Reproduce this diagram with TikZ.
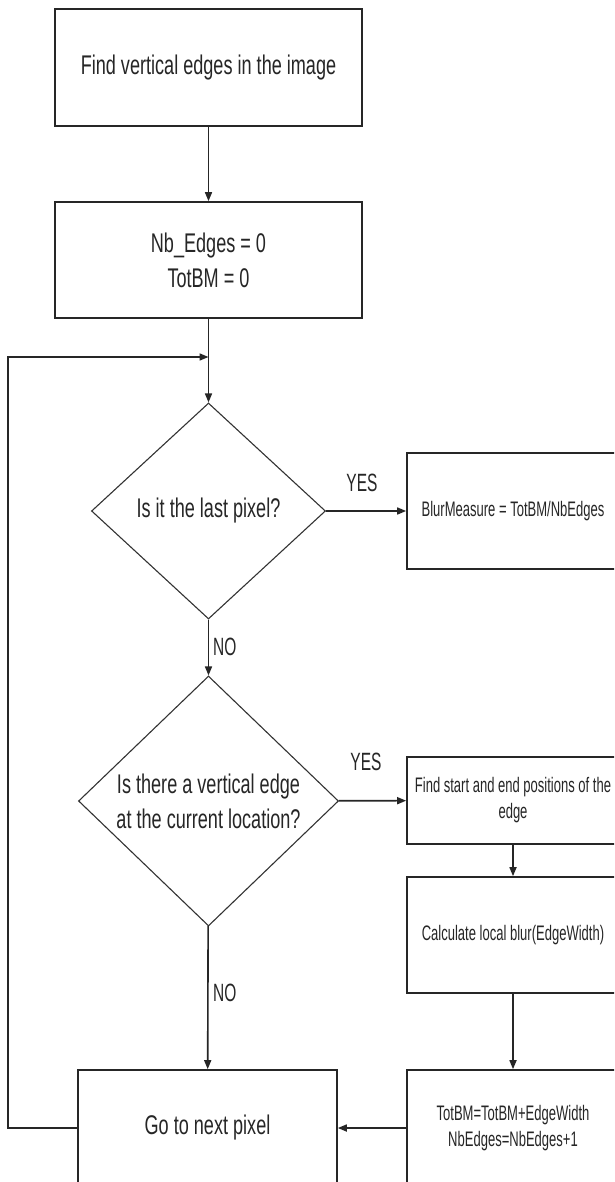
\documentclass[tikz,border=0pt]{standalone}
\usepackage{fontspec}
\usetikzlibrary{arrows.meta,shapes.geometric}
\newfontfamily\bigff[FakeStretch=0.67]{Liberation Sans}
\newfontfamily\smallff[FakeStretch=0.62]{Liberation Sans}
\newfontfamily\labff[FakeStretch=0.62]{Liberation Sans}
\newcommand{\bigtxt}{\bigff\fontsize{27}{35}\selectfont}
\newcommand{\smalltxt}{\smallff\fontsize{21}{26}\selectfont}
\newcommand{\labtxt}{\labff\fontsize{25}{28}\selectfont}
\tikzset{
  procbox/.style={draw=black!85, line width=1.7pt, inner sep=0pt, align=center, text=black!85},
  bigbox/.style={procbox, font=\bigtxt, minimum width=307pt, minimum height=117pt},
  rbox/.style={procbox, font=\smalltxt, minimum width=212pt, minimum height=116pt},
  decision/.style={diamond, draw=black!80, line width=1.1pt, inner sep=0pt, align=center, text=black!85, font=\bigtxt},
  arr/.style={draw=black!85, line width=1.6pt, -{Triangle[length=9pt,width=7pt]}},
  lab/.style={font=\labtxt, text=black!85, inner sep=0pt}
}
\begin{document}
\begin{tikzpicture}[x=1pt,y=-1pt]
\useasboundingbox (0,0) rectangle (614,1182);
\clip (0,0) rectangle (614,1182);
\fill[white] (0,0) rectangle (614,1182);
% nodes
\node[bigbox] (b1) at (208.5,67.5) {Find vertical edges in the image};
\node[bigbox, minimum height=116pt] (b2) at (208.5,260) {Nb\_Edges = 0\\TotBM = 0};
\node[decision, minimum width=234pt, minimum height=216pt] (d1) at (208.5,511) {Is it the last pixel?};
\node[decision, minimum width=260pt, minimum height=250pt] (d2) at (208.5,801) {Is there a vertical edge\\at the current location?};
\node[rbox] (blur) at (513,511) {BlurMeasure = TotBM/NbEdges};
\node[rbox, minimum height=87pt] (find) at (513,800.5) {Find start and end positions of the\\edge};
\node[rbox] (calc) at (513,935) {Calculate local blur(EdgeWidth)};
\node[rbox] (tot) at (513,1128) {TotBM=TotBM+EdgeWidth\\NbEdges=NbEdges+1};
\node[bigbox, minimum width=259pt, minimum height=116pt] (go) at (207.5,1128) {Go to next pixel};
\coordinate (j) at (208.5,357);
\coordinate (lc) at (8,357);
% connectors
\draw[arr] (b1) -- (b2);
\draw[arr] (b2) -- (d1);
\draw[arr] (d1) -- (blur);
\draw[arr] (d1) -- (d2);
\draw[arr] (d2) -- (find);
\draw[arr] (find) -- (calc);
\draw[arr] (calc) -- (tot);
\draw[arr] (tot) -- (go);
\draw[arr] (d2) -- (go);
\draw[arr] (go.west) -| (lc) -- (j);
% labels
\node[lab] (y1) at (362,483) {YES};
\node[lab, anchor=west] (n1) at (213,647) {NO};
\node[lab] (y2) at (366,762) {YES};
\node[lab, anchor=west] (n2) at (213,993) {NO};
\end{tikzpicture}
\end{document}
